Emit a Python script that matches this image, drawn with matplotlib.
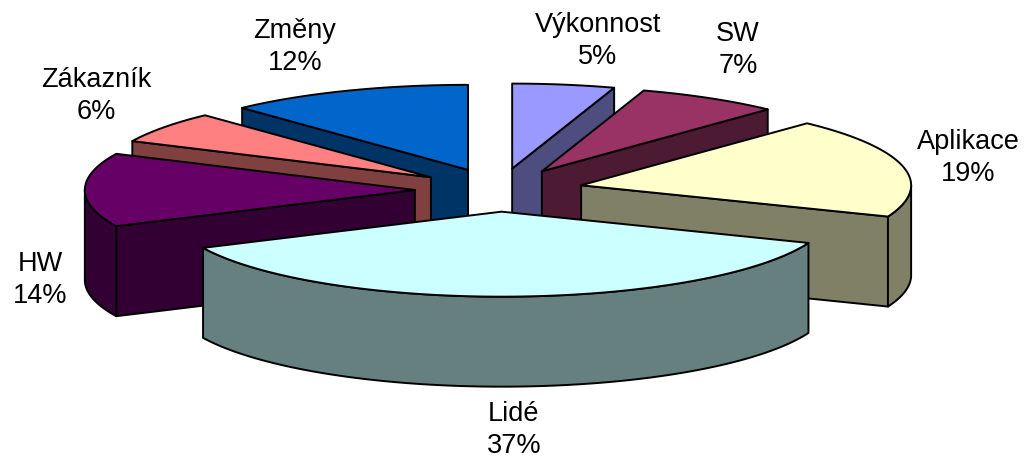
import matplotlib
matplotlib.use('Agg')
import matplotlib.pyplot as plt
import numpy as np
from matplotlib.patches import Polygon

labels = ['Výkonnost', 'SW', 'Aplikace', 'Lidé', 'HW', 'Zákazník', 'Změny']
values = [5, 7, 19, 37, 14, 6, 12]
top_colors = ['#9999FF', '#993366', '#FFFFCC', '#CCFFFF', '#660066', '#FF8080', '#0066CC']
side_colors = ['#4D4D80', '#4D1A33', '#808066', '#668080', '#330033', '#804040', '#003366']
# label centres in pixels
label_pos = [(598, 41), (738, 50), (968, 158), (514, 430), (40, 280), (96, 96), (295, 47)]

# pie geometry in pixels
cx, cy = 499, 190
rx, ry = 330, 85
depth = 90
explode = 0.255

plt.rcParams['font.family'] = ['Liberation Sans', 'DejaVu Sans']

fig = plt.figure(figsize=(10.25, 4.61), dpi=100)
ax = fig.add_axes([0, 0, 1, 1])
ax.set_xlim(0, 1025)
ax.set_ylim(461, 0)
ax.axis('off')


def arc(x0, y0, a0, a1):
    # angles in degrees, clockwise from 12 o'clock
    t = np.radians(np.linspace(a0, a1, max(int(a1-a0)*2, 2)))
    return np.column_stack((x0+rx*np.sin(t), y0-ry*np.cos(t)))


def draw_face(pts, color, z):
    ax.add_patch(Polygon(pts, closed=True, facecolor=color, edgecolor='black',
                         linewidth=1.4, joinstyle='round', zorder=z))


# start and end angle of every slice
edges = np.concatenate(([0], np.cumsum(values)))*360/sum(values)
slices = []
for i in range(len(values)):
    a0, a1 = edges[i], edges[i+1]
    mid = np.radians((a0+a1)/2)
    x0 = cx+explode*rx*np.sin(mid)
    y0 = cy-explode*ry*np.cos(mid)
    slices.append((y0, x0, a0, a1, i))

# painter's order: slices further back first
z = 1
for y0, x0, a0, a1, i in sorted(slices):
    down = np.array([0, depth])
    apex = np.array([x0, y0])
    # cut faces, only when they look towards the viewer
    if np.cos(np.radians(a0-90)) < 0:
        p = arc(x0, y0, a0, a0+1)[0]
        draw_face([apex, p, p+down, apex+down], side_colors[i], z)
    if np.cos(np.radians(a1+90)) < 0:
        p = arc(x0, y0, a1-1, a1)[-1]
        draw_face([apex, p, p+down, apex+down], side_colors[i], z)
    # outer rim, front half of the ellipse only
    r0, r1 = max(a0, 90), min(a1, 270)
    if r1 > r0:
        top = arc(x0, y0, r0, r1)
        draw_face(np.vstack((top, (top+down)[::-1])), side_colors[i], z)
    draw_face(np.vstack((apex, arc(x0, y0, a0, a1))), top_colors[i], z+1)
    z += 2

for name, val, pos in zip(labels, values, label_pos):
    ax.text(pos[0], pos[1], '%s\n%d%%' % (name, val), ha='center', va='center',
            fontsize=19.5, linespacing=1.3, color='black', zorder=50)

fig.savefig('out.png', dpi=100)
